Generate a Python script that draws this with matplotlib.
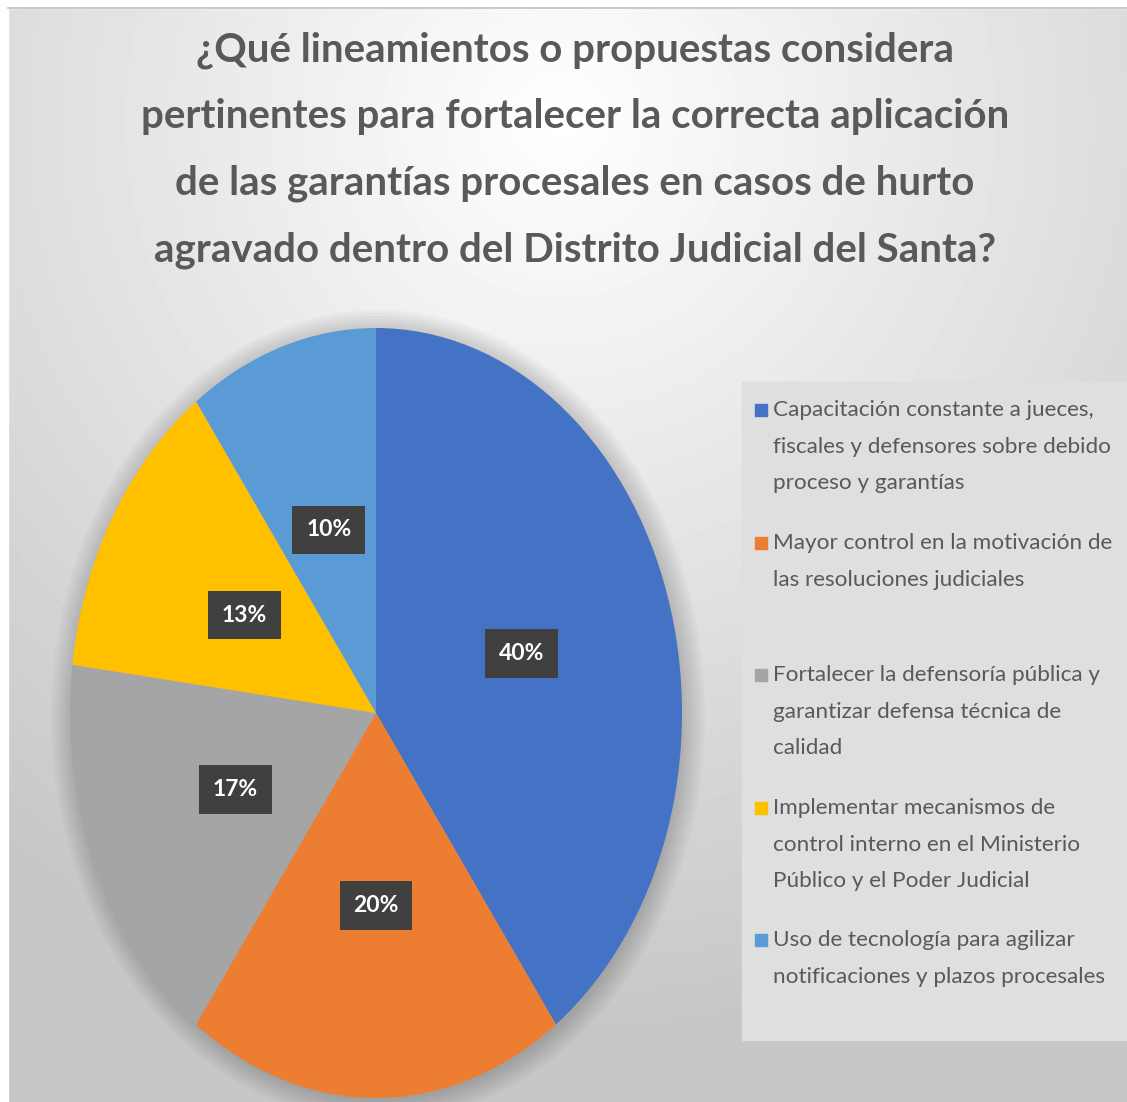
import numpy as np
import matplotlib.pyplot as plt
from matplotlib.patches import Rectangle, Ellipse

#---datos-----
titulo = ("¿Qué lineamientos o propuestas considera\n"
          "pertinentes para fortalecer la correcta aplicación\n"
          "de las garantías procesales en casos de hurto\n"
          "agravado dentro del Distrito Judicial del Santa?")
categorias = [
    "Capacitación constante a jueces,\nfiscales y defensores sobre debido\nproceso y garantías",
    "Mayor control en la motivación de\nlas resoluciones judiciales",
    "Fortalecer la defensoría pública y\ngarantizar defensa técnica de\ncalidad",
    "Implementar mecanismos de\ncontrol interno en el Ministerio\nPúblico y el Poder Judicial",
    "Uso de tecnología para agilizar\nnotificaciones y plazos procesales",
]
porcentajes = [40, 20, 17, 13, 10]
colores = ["#4472c4", "#ed7d31", "#a5a5a5", "#ffc000", "#5b9bd5"]

FAM = ["Lato", "DejaVu Sans"]
W, H = 1127, 1102
fig = plt.figure(figsize=(W / 100, H / 100), dpi=100)

#---fondo con degradado-----
bg = fig.add_axes([0, 0, 1, 1])
yy, xx = np.mgrid[0:H, 0:W]
d = np.sqrt(((xx - 560) / 950.0) ** 2 + ((yy - 120) / 950.0) ** 2)
g = np.clip(1.0 - 0.23 * d, 0.78, 1.0)
bg.imshow(g, cmap="gray", vmin=0, vmax=1, extent=[0, W, H, 0], aspect="auto")
bg.set_xlim(0, W)
bg.set_ylim(H, 0)
bg.axis("off")
# bordes blancos de la hoja
bg.add_patch(Rectangle((0, 0), W, 8, color="white", zorder=2))
bg.add_patch(Rectangle((0, 0), 8, H, color="white", zorder=2))
bg.plot([8, W], [8, 8], color="#c0c0c0", lw=1.2, zorder=3)
# sombra difusa del pastel
for k in range(8):
    bg.add_patch(Ellipse((378, 716), 2 * (306 + 3 * k), 2 * (385 + 3 * k),
                         color="black", alpha=0.025, lw=0, zorder=1))

#---titulo-----
fig.text(575 / W, 1 - 150 / H, titulo, ha="center", va="center",
         fontsize=29, fontweight="bold", color="#595959",
         family=FAM, linespacing=1.98)

#---pastel (elipse)-----
ax = fig.add_axes([70 / W, 4 / H, 612 / W, 770 / H])
wedges, texts, autotexts = ax.pie(porcentajes, colors=colores, startangle=90,
                                  counterclock=False, autopct="%d%%",
                                  pctdistance=0.5, radius=1.0)
ax.set_aspect("auto")
ax.set_xlim(-1, 1)
ax.set_ylim(-1, 1)
ax.axis("off")
for t in autotexts:
    t.set_color("white")
    t.set_fontsize(16.5)
    t.set_fontweight("bold")
    t.set_family(FAM)
    t.set_bbox(dict(boxstyle="square,pad=0.6", fc="#404040", ec="none"))

#---leyenda manual-----
bg.add_patch(Rectangle((742, 382), 384, 658, color="#dfdfdf", zorder=2))
ys = [410, 543, 675, 808, 940]
for i, (cat, col) in enumerate(zip(categorias, colores)):
    bg.add_patch(Rectangle((755, ys[i] - 6), 12, 12, color=col, zorder=3))
    bg.text(773, ys[i] - 10, cat, ha="left", va="top", fontsize=16.2,
            color="#595959", family=FAM, linespacing=2.04, zorder=4)

fig.savefig("out.png", dpi=100)
